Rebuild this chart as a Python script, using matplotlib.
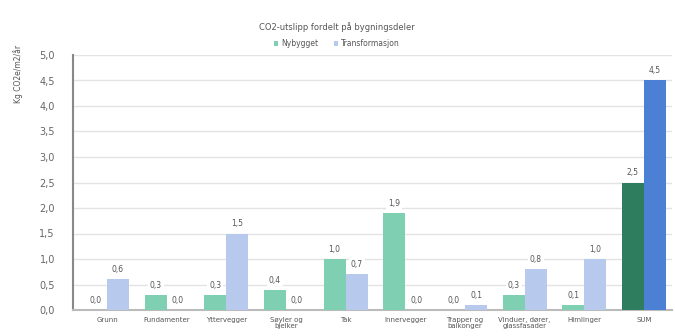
import matplotlib
matplotlib.use("Agg")
import matplotlib.pyplot as plt
import numpy as np

categories = ["Grunn", "Fundamenter", "Yttervegger", "Søyler og\nbjelker", "Tak",
              "Innervegger", "Trapper og\nbalkonger", "Vinduer, dører,\nglassfasader", "Himlinger", "SUM"]
nybygg = [0.0, 0.3, 0.3, 0.4, 1.0, 1.9, 0.0, 0.3, 0.1, 2.5]
transform = [0.6, 0.0, 1.5, 0.0, 0.7, 0.0, 0.1, 0.8, 1.0, 4.5]
series_names = ["Nybygget", "Transformasjon"]
title = "CO2-utslipp fordelt på bygningsdeler"
ylabel = "Kg CO2e/m2/år"
yticks = [0.0, 0.5, 1.0, 1.5, 2.0, 2.5, 3.0, 3.5, 4.0, 4.5, 5.0]

plt.rcParams['font.family'] = ['DejaVu Sans']
fig = plt.figure(figsize=(6.75, 3.36), dpi=100)
ax = fig.add_axes([73/675, 1-310/336, (672-73)/675, (310-55)/336])

x = np.arange(len(categories))
w = 0.37
g_col = ["#7fd0b2"] * 9 + ["#2f7d5f"]
b_col = ["#b7caee"] * 9 + ["#4b80d4"]
b1 = ax.bar(x - w/2, nybygg, w, color=g_col, label=series_names[0], zorder=3)
b2 = ax.bar(x + w/2, transform, w, color=b_col, label=series_names[1], zorder=3)

def fmt(v):
    return f"{v:.1f}".replace(".", ",")

for bars, vals in ((b1, nybygg), (b2, transform)):
    for r, v in zip(bars, vals):
        ax.text(r.get_x() + r.get_width()/2, v + 0.1, fmt(v), ha='center', va='bottom',
                fontsize=5.5, color='#555555', zorder=4,
                bbox=dict(boxstyle='square,pad=0.25', fc='white', ec='none'))

ax.set_ylim(0, 5.0)
ax.set_xlim(-0.57, 9.47)
ax.set_yticks(yticks)
ax.set_yticklabels([fmt(t) for t in yticks], fontsize=7, color='#666666')
ax.set_xticks(x)
ax.set_xticklabels(categories, fontsize=5, color='#555555', linespacing=1.0)
ax.tick_params(axis='y', length=0, pad=13)
ax.tick_params(axis='x', length=0, pad=5)
ax.yaxis.grid(True, color='#e3e3e3', linewidth=1.0, zorder=0)
for s in ('top', 'right'):
    ax.spines[s].set_visible(False)
ax.spines['left'].set_color('#888888')
ax.spines['left'].set_linewidth(1.5)
ax.spines['bottom'].set_color('#bbbbbb')
ax.spines['bottom'].set_linewidth(1.5)

fig.text(337/675, 1-27/336, title, ha='center', va='center', fontsize=6, color='#555555')
fig.text(18/675, 1-45/336, ylabel, ha='center', va='top', rotation=90, fontsize=5.5, color='#555555')
fig.legend(handles=[b1, b2], labels=series_names, loc='center', bbox_to_anchor=(337/675, 1-44/336),
           ncol=2, frameon=False, fontsize=5.5, handlelength=0.6, handleheight=0.6,
           columnspacing=2.0, handletextpad=0.4, labelcolor='#555555')

fig.savefig("out.png", dpi=100)
